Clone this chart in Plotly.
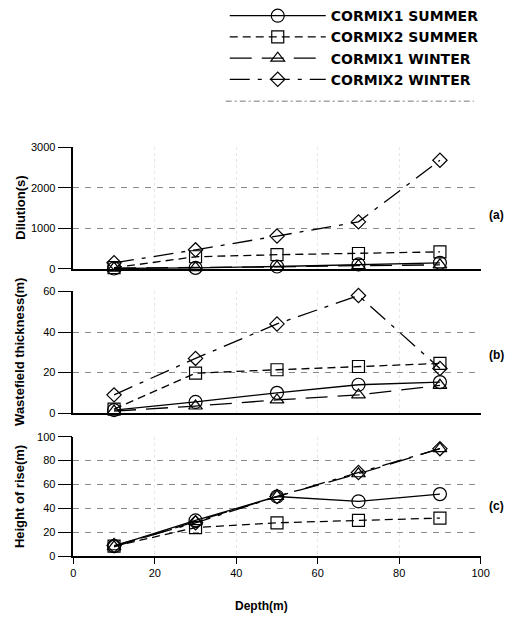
import plotly.graph_objects as go

depth = [10, 30, 50, 70, 90]
series_names = ["CORMIX1 SUMMER", "CORMIX2 SUMMER", "CORMIX1 WINTER", "CORMIX2 WINTER"]

dilution_c1s = [10, 25, 60, 110, 150]
dilution_c2s = [30, 300, 350, 380, 420]
dilution_c1w = [20, 30, 50, 80, 100]
dilution_c2w = [150, 470, 810, 1160, 2680]

thick_c1s = [1.5, 5.5, 10, 14, 15.3]
thick_c2s = [2, 19.7, 21.4, 23, 24.5]
thick_c1w = [1, 3.5, 6.5, 9, 13.7]
thick_c2w = [9, 27, 44, 58, 22]

rise_c1s = [8.5, 30, 50, 46, 52]
rise_c2s = [8.5, 24, 28, 30, 32]
rise_c1w = [8, 29, 50, 69, 90]
rise_c2w = [9, 28, 50, 70, 90]

x_ticks = [0, 20, 40, 60, 80, 100]
dil_ticks = [0, 1000, 2000, 3000]
thick_ticks = [0, 20, 40, 60]
rise_ticks = [0, 20, 40, 60, 80, 100]

FONT = "Liberation Sans, Arial, sans-serif"
LEG_FONT = "DejaVu Sans, sans-serif"
W, H = 518, 632

styles = [
    dict(symbol="circle-open", size=13, dash="solid"),
    dict(symbol="square-open", size=12, dash="8px,5px"),
    dict(symbol="triangle-up-open", size=12, dash="22px,10px"),
    dict(symbol="diamond-open", size=11, dash="20px,8px,4px,8px"),
]

panels = [
    ("x", "y", [dilution_c1s, dilution_c2s, dilution_c1w, dilution_c2w]),
    ("x2", "y2", [thick_c1s, thick_c2s, thick_c1w, thick_c2w]),
    ("x3", "y3", [rise_c1s, rise_c2s, rise_c1w, rise_c2w]),
]

fig = go.Figure()
for pi, (xa, ya, data) in enumerate(panels):
    for si, vals in enumerate(data):
        st = styles[si]
        fig.add_trace(go.Scatter(
            x=depth, y=vals, xaxis=xa, yaxis=ya,
            mode="lines+markers",
            name=series_names[si],
            showlegend=(pi == 0),
            line=dict(color="black", width=1.3, dash=st["dash"]),
            marker=dict(symbol=st["symbol"], size=st["size"], color="black",
                        line=dict(color="black", width=1.2)),
            cliponaxis=False,
        ))

def px_x(p):
    return p / W

def px_y(p):
    return 1 - p / H

xdom = [px_x(72), px_x(489)]
ydoms = [
    [px_y(268), px_y(144)],
    [px_y(415), px_y(291)],
    [px_y(561), px_y(439)],
]

yaxis_common = dict(
    showline=True, linecolor="black", linewidth=1.5,
    ticks="outside", ticklen=14, tickcolor="black", tickwidth=1.2,
    showgrid=True, gridcolor="#8a8a8a", griddash="6px,6px", gridwidth=1,
    zeroline=False, tickfont=dict(family=FONT, size=11, color="black"),
)
xaxis_common = dict(
    range=[0, 100], showline=True, linecolor="black", linewidth=1.5,
    showgrid=True, gridcolor="#e6e6e6", griddash="dot", gridwidth=1,
    zeroline=False, tickvals=x_ticks, domain=xdom,
    tickfont=dict(family=FONT, size=11, color="black"),
)

LEG_X = 227
LEG_W = 96
fig.update_layout(
    width=W, height=H,
    margin=dict(l=0, r=0, t=0, b=0),
    paper_bgcolor="white", plot_bgcolor="white",
    font=dict(family=FONT, color="black"),
    xaxis=dict(**xaxis_common, anchor="y", showticklabels=False),
    xaxis2=dict(**xaxis_common, anchor="y2", showticklabels=False),
    xaxis3=dict(**xaxis_common, anchor="y3", ticks="outside", ticklen=6,
                tickcolor="black"),
    yaxis=dict(**yaxis_common, range=[0, 3000], tickvals=dil_ticks,
               domain=ydoms[0], anchor="x"),
    yaxis2=dict(**yaxis_common, range=[0, 60], tickvals=thick_ticks,
                domain=ydoms[1], anchor="x2"),
    yaxis3=dict(**yaxis_common, range=[0, 100], tickvals=rise_ticks,
                domain=ydoms[2], anchor="x3"),
    showlegend=True,
    legend=dict(
        x=px_x(LEG_X), y=px_y(-6), xanchor="left", yanchor="top",
        font=dict(family=LEG_FONT, size=14, color="black", weight="bold"),
        bgcolor="rgba(0,0,0,0)", tracegroupgap=0, itemwidth=LEG_W,
    ),
)

annos = [
    dict(text="<b>Dilution(s)</b>", x=px_x(17), y=(ydoms[0][0] + ydoms[0][1]) / 2),
    dict(text="<b>Wastefield thickness(m)</b>", x=px_x(17), y=(ydoms[1][0] + ydoms[1][1]) / 2),
    dict(text="<b>Height of rise(m)</b>", x=px_x(17), y=(ydoms[2][0] + ydoms[2][1]) / 2),
]
for a in annos:
    fig.add_annotation(text=a["text"], x=a["x"], y=a["y"], xref="paper", yref="paper",
                       textangle=-90, showarrow=False, xanchor="center", yanchor="middle",
                       font=dict(family=FONT, size=13, color="black"))

for lbl, yy in [("(a)", 213), ("(b)", 356), ("(c)", 510)]:
    fig.add_annotation(text="<b>" + lbl + "</b>", x=px_x(505), y=px_y(yy),
                       xref="paper", yref="paper", showarrow=False,
                       xanchor="center", yanchor="middle",
                       font=dict(family=FONT, size=12, color="black"))

fig.add_annotation(text="<b>Depth(m)</b>", x=px_x(265), y=px_y(612),
                   xref="paper", yref="paper", showarrow=False,
                   xanchor="center", yanchor="middle",
                   font=dict(family=FONT, size=12, color="black"))

fig.add_shape(type="line", xref="paper", yref="paper",
              x0=px_x(228), x1=px_x(482), y0=px_y(97), y1=px_y(97),
              line=dict(color="#777777", width=1, dash="6px,3px,2px,3px"))

fig.write_html("out.html")
